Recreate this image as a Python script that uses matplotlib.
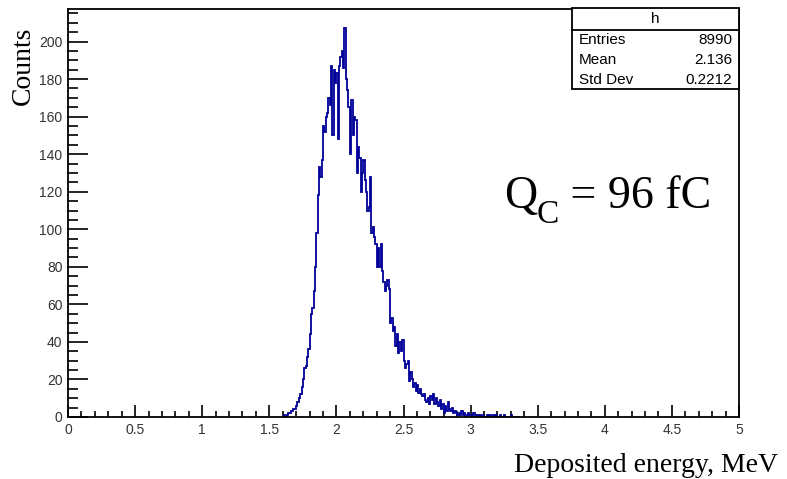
import numpy as np
import matplotlib
matplotlib.use("Agg")
import matplotlib.pyplot as plt
from matplotlib.patches import Rectangle
from matplotlib.lines import Line2D
from matplotlib.ticker import MultipleLocator, FormatStrFormatter
from matplotlib.transforms import ScaledTranslation

# histogram: 0.01 MeV bins, first bin starts at 1.60 MeV
bin_width = 0.01
first_edge = 1.60
counts = [
    0, 1, 0, 1, 2, 2, 3, 3, 4, 4,                       # 1.60
    6, 8, 10, 12, 16, 20, 26, 27, 32, 36,               # 1.70
    44, 55, 58, 67, 80, 98, 118, 133, 128, 137,         # 1.80
    155, 152, 160, 162, 170, 166, 187, 150, 185, 178,   # 1.90
    183, 148, 187, 192, 195, 186, 207, 180, 174, 165,   # 2.00
    140, 169, 150, 160, 158, 130, 144, 138, 120, 130,   # 2.10
    137, 126, 120, 110, 112, 128, 98, 101, 96, 92,      # 2.20
    80, 90, 80, 92, 78, 72, 67, 70, 73, 68,             # 2.30
    50, 53, 46, 48, 38, 44, 34, 40, 35, 41,             # 2.40
    30, 26, 28, 30, 19, 24, 20, 16, 18, 14,             # 2.50
    17, 13, 15, 12, 11, 12, 9, 8, 10, 7,                # 2.60
    11, 9, 12, 7, 10, 8, 6, 9, 4, 7,                    # 2.70
    2, 6, 3, 8, 4, 3, 5, 2, 3, 2,                       # 2.80
    1, 2, 1, 3, 1, 2, 0, 1, 2, 1,                       # 2.90
    1, 0, 2, 1, 0, 1, 0, 1, 0, 1,                       # 3.00
    0, 0, 1, 0, 1, 0, 0, 1, 0, 1,                       # 3.10
    0, 0, 1, 0, 0, 1, 0, 0, 0, 0,                       # 3.20
    1, 0, 0, 0, 0, 0,                                   # 3.30
]
stats_labels = ["Entries", "Mean", "Std Dev"]
stats_values = ["8990", "2.136", "0.2212"]

W, H = 787, 479
def fx(p):
    return p / W
def fy(p):
    return 1 - p / H

fig = plt.figure(figsize=(W / 100, H / 100), dpi=100)
ax = fig.add_axes([fx(68), fy(417), fx(739) - fx(68), fy(9) - fy(417)])

edges = first_edge + bin_width * np.arange(len(counts) + 1)
ax.stairs(counts, edges, color="#000099", lw=1.3, zorder=2)

ax.set_xlim(0, 5)
ax.set_ylim(0, 1.05 * max(counts))

ax.xaxis.set_major_locator(MultipleLocator(0.5))
ax.xaxis.set_minor_locator(MultipleLocator(0.1))
ax.yaxis.set_major_locator(MultipleLocator(20))
ax.yaxis.set_minor_locator(MultipleLocator(5))
ax.xaxis.set_major_formatter(FormatStrFormatter("%g"))
ax.yaxis.set_major_formatter(FormatStrFormatter("%g"))
ax.tick_params(axis="x", which="major", direction="in", length=8.6, width=1.2,
               labelsize=10, labelcolor="#333333", pad=4)
ax.tick_params(axis="x", which="minor", direction="in", length=4.3, width=1.2)
ax.tick_params(axis="y", which="major", direction="in", length=14.4, width=1.2,
               labelsize=10, labelcolor="#333333", pad=4)
ax.tick_params(axis="y", which="minor", direction="in", length=7.2, width=1.2)
for lab in ax.get_xticklabels() + ax.get_yticklabels():
    lab.set_family("Liberation Sans")
for s in ax.spines.values():
    s.set_linewidth(1.3)
    s.set_zorder(3)

# ROOT-like nudge of the two zero labels away from each other
fig.canvas.draw()
ylab0 = ax.yaxis.get_major_ticks()[0].label1
ylab0.set_transform(ylab0.get_transform() + ScaledTranslation(0, 6 / 72, fig.dpi_scale_trans))
xlab0 = ax.xaxis.get_major_ticks()[0].label1
xlab0.set_transform(xlab0.get_transform() + ScaledTranslation(3 / 72, 0, fig.dpi_scale_trans))

serif = "Liberation Serif"
fig.text(fx(23), fy(27), "Counts", rotation=90, ha="center", va="top",
         family=serif, fontsize=20)
fig.text(fx(778), fy(465), "Deposited energy, MeV", ha="right", va="center",
         family=serif, fontsize=20)

# Q_C label, drawn piecewise so the subscript keeps its size
r = fig.canvas.get_renderer()
base_y = fy(208)
t1 = fig.text(fx(504), base_y, "Q", family=serif, fontsize=33, va="baseline")
e1 = t1.get_window_extent(r)
t2 = fig.text(e1.x1 / W, fy(223), "C", family=serif, fontsize=24, va="baseline")
e2 = t2.get_window_extent(r)
fig.text(e2.x1 / W, base_y, " = 96 fC", family=serif, fontsize=33, va="baseline")

# stats box
bx0, bx1, by0, by1 = 572, 739, 8, 89
fig.add_artist(Rectangle((fx(bx0), fy(by1)), fx(bx1) - fx(bx0), fy(by0) - fy(by1),
                         transform=fig.transFigure, facecolor="white",
                         edgecolor="black", lw=1.3, zorder=5))
fig.add_artist(Line2D([fx(bx0), fx(bx1)], [fy(29.5), fy(29.5)],
                      transform=fig.transFigure, color="black", lw=1.3, zorder=6))
fig.text(fx((bx0 + bx1) / 2), fy(19), "h", ha="center", va="center",
         family="Liberation Sans", fontsize=11, zorder=7)
for i, (lab, val) in enumerate(zip(stats_labels, stats_values)):
    yy = fy(40 + 20 * i)
    fig.text(fx(579), yy, lab, ha="left", va="center",
             family="Liberation Sans", fontsize=11, zorder=7)
    fig.text(fx(732), yy, val, ha="right", va="center",
             family="Liberation Sans", fontsize=11, zorder=7)

fig.savefig("out.png", dpi=100)
